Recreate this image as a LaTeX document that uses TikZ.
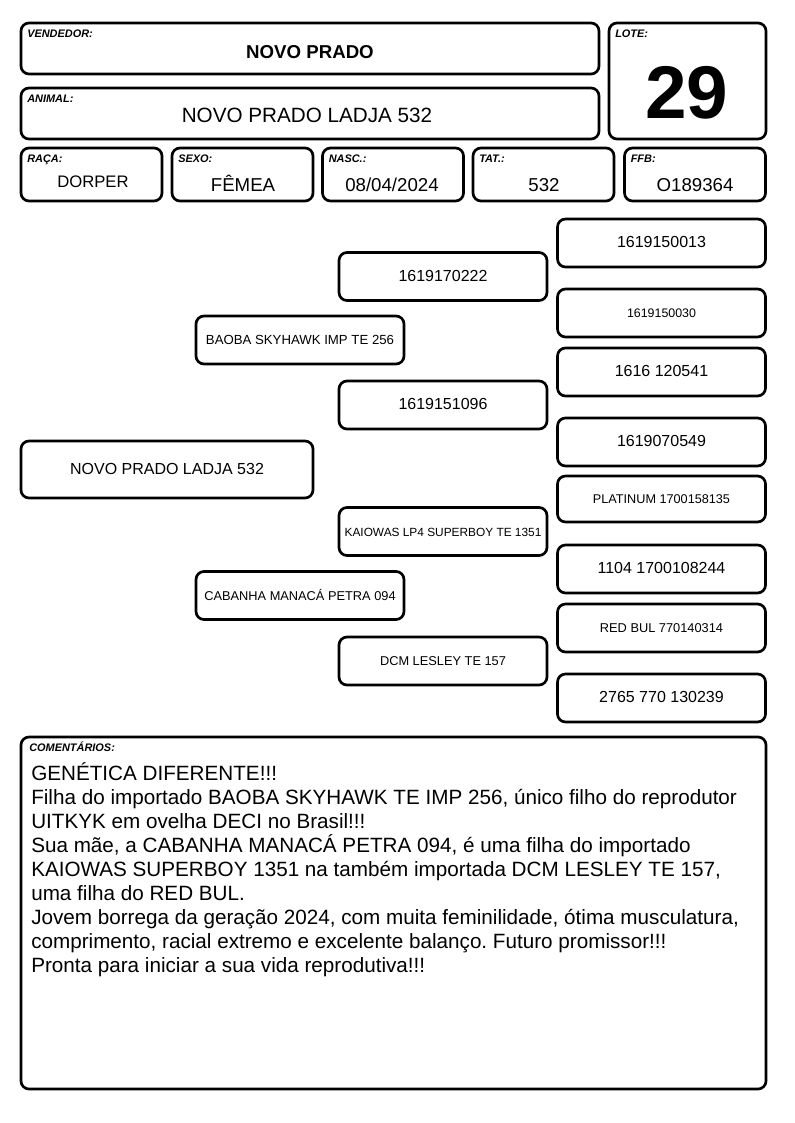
\documentclass[tikz,border=0pt]{standalone}
\usepackage{fontspec}
\setmainfont{Liberation Sans}
\usetikzlibrary{positioning}
\frenchspacing

\begin{document}
\begin{tikzpicture}[x=0.75pt, y=-0.75pt,
    box/.style = {draw, line width=2pt, rounded corners=6pt, inner sep=0pt},
    field/.style = {font=\bfseries\itshape\fontsize{8.2}{9}\selectfont, inner sep=0pt, anchor=base west},
    value/.style = {font=\fontsize{14}{16}\selectfont, inner sep=0pt, anchor=base},
    small/.style = {box, minimum width=105.75pt, minimum height=39.75pt},
    ped/.style = {box, minimum width=156pt, minimum height=36pt, text height=0.72em, text depth=0pt,
        font=\fontsize{12}{14}\selectfont},
    pedsmall/.style = {ped, font=\fontsize{9.6}{11}\selectfont}]

    \useasboundingbox (0,0) rectangle (794,1123);

    % Header
    \node [box, minimum width=433.5pt, minimum height=38.25pt] (vend) at (310,48.5) {};
    \node [box, minimum width=433.5pt, minimum height=38.25pt] (animal) at (310,113.5) {};
    \node [box, minimum width=117.75pt, minimum height=87pt] (lote) at (687.5,81) {};
    \node [small] (raca) at (91.5,174.5) {};
    \node [small] (sexo) at (242.5,174.5) {};
    \node [small] (nasc) at (393,174.5) {};
    \node [small] (tat) at (543.5,174.5) {};
    \node [small] (ffb) at (695,174.5) {};

    \foreach \n/\t in {vend/VENDEDOR:, animal/ANIMAL:, lote/LOTE:, raca/RAÇA:, sexo/SEXO:,
        nasc/NASC.:, tat/TAT.:, ffb/FFB:}
        \node [field] (\n-lbl) at ([xshift=5.5pt, yshift=-12pt]\n.north west) {\t};

    \node [value, font=\bfseries\fontsize{14}{16}\selectfont] (vend-txt) at (310,59) {NOVO PRADO};
    \node [value, font=\fontsize{15.5}{18}\selectfont] (animal-txt) at (307,123) {NOVO PRADO LADJA 532};
    \node [value, font=\bfseries\fontsize{56}{60}\selectfont] (lote-txt) at (687,119) {29};
    \node [value, font=\fontsize{12.5}{14}\selectfont] (raca-txt) at (93,188) {DORPER};
    \node [value] (sexo-txt) at (243,192) {FÊMEA};
    \node [value] (nasc-txt) at (392,192) {08/04/2024};
    \node [value] (tat-txt) at (544,192) {532};
    \node [value] (ffb-txt) at (695,192) {O189364};

    % Pedigree
    \node [ped, minimum width=219pt, minimum height=42.75pt] (ind) at (167,469.5) {NOVO PRADO LADJA 532};
    \node [pedsmall, font=\fontsize{9.9}{11}\selectfont] (sire) at (300,340) {BAOBA SKYHAWK IMP TE 256};
    \node [pedsmall] (dam) at (300,595.5) {CABANHA MANACÁ PETRA 094};
    \node [ped] (ss) at (443,276.5) {1619170222};
    \node [ped] (sd) at (443,405) {1619151096};
    \node [pedsmall, font=\fontsize{8.9}{11}\selectfont] (ds) at (443,531.5) {KAIOWAS LP4 SUPERBOY TE 1351};
    \node [pedsmall] (dd) at (443,661) {DCM LESLEY TE 157};
    \node [ped] (sss) at (661.5,243) {1619150013};
    \node [pedsmall, font=\fontsize{9.3}{11}\selectfont] (ssd) at (661.5,313) {1619150030};
    \node [ped] (sds) at (661.5,372) {1616 120541};
    \node [ped] (sdd) at (661.5,442) {1619070549};
    \node [pedsmall, font=\fontsize{9.5}{11}\selectfont, minimum height=34.5pt] (dss) at (661.5,499) {PLATINUM 1700158135};
    \node [ped] (dsd) at (661.5,569) {1104 1700108244};
    \node [pedsmall] (dds) at (661.5,628) {RED BUL 770140314};
    \node [ped] (ddd) at (661.5,698) {2765 770 130239};

    % Comments
    \node [box, minimum width=558.75pt, minimum height=264pt] (com) at (393.5,913) {};
    \node [field] (com-lbl) at ([xshift=7pt, yshift=-12pt]com.north west) {COMENTÁRIOS:};
    \node [inner sep=0pt, anchor=north west, align=left, font=\fontsize{15.5}{18}\selectfont] (com-txt) at (31,762)
        {GENÉTICA DIFERENTE!!!\\
         Filha do importado BAOBA SKYHAWK TE IMP 256, único filho do reprodutor\\
         UITKYK em ovelha DECI no Brasil!!!\\
         Sua mãe, a CABANHA MANACÁ PETRA 094, é uma filha do importado\\
         KAIOWAS SUPERBOY 1351 na também importada DCM LESLEY TE 157,\\
         uma filha do RED BUL.\\
         Jovem borrega da geração 2024, com muita feminilidade, ótima musculatura,\\
         comprimento, racial extremo e excelente balanço. Futuro promissor!!!\\
         Pronta para iniciar a sua vida reprodutiva!!!};
\end{tikzpicture}
\end{document}
